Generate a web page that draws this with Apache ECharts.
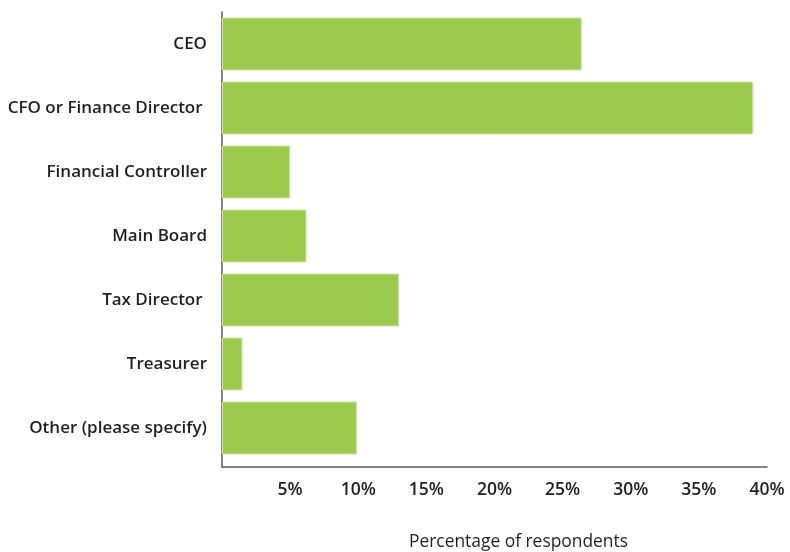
<!DOCTYPE html>
<html>
<head>
<meta charset="utf-8">
<script src="https://cdn.jsdelivr.net/npm/echarts@6/dist/echarts.min.js"></script>
<style>
  html, body { margin: 0; padding: 0; background: #ffffff; }
  #chart { width: 790px; height: 552px; }
</style>
</head>
<body>
<div id="chart"></div>
<script>
// Who within the organisation is responsible (share of respondents, %)
const roles = [
  'CEO',
  'CFO or Finance Director ',
  'Financial Controller',
  'Main Board',
  'Tax Director ',
  'Treasurer',
  'Other (please specify)'
];
const shares = [26.4, 39.0, 5.0, 6.2, 13.0, 1.5, 9.9];
const axisMin = 0;
const axisMax = 40;
const axisStep = 5;
const axisTitle = 'Percentage of respondents';

const FONT = '"Open Sans", "Noto Sans", sans-serif';
const TEXT = '#231f20';
const BAR = '#9bca4c';
const AXIS = '#5a5a5a';

const chart = echarts.init(document.getElementById('chart'), null, { renderer: 'canvas' });

chart.setOption({
  backgroundColor: '#ffffff',
  animation: false,
  textStyle: { fontFamily: FONT },
  title: {
    text: axisTitle,
    left: 409,
    top: 534,
    padding: 0,
    textStyle: { fontFamily: FONT, fontSize: 17.4, fontWeight: 'normal', color: TEXT }
  },
  grid: [
    // frame grid: carries the two axis lines and the percentage scale
    { left: 222, right: 23, top: 12, bottom: 85, containLabel: false },
    // bar grid: category bands end a little above the horizontal axis
    { left: 222, right: 23, top: 12, bottom: 92, containLabel: false }
  ],
  xAxis: [
    {
      gridIndex: 0,
      type: 'value',
      min: axisMin,
      max: axisMax,
      interval: axisStep,
      axisLine: { show: true, lineStyle: { color: AXIS, width: 1.5 } },
      axisTick: { show: false },
      splitLine: { show: false },
      axisLabel: {
        margin: 14,
        fontFamily: FONT,
        fontSize: 17.5,
        fontWeight: 600,
        color: TEXT,
        formatter: v => (v === 0 ? '' : v + '%')
      }
    },
    {
      gridIndex: 1,
      type: 'value',
      min: axisMin,
      max: axisMax,
      show: false
    }
  ],
  yAxis: [
    {
      gridIndex: 0,
      type: 'category',
      inverse: true,
      data: roles,
      axisLine: { show: true, lineStyle: { color: AXIS, width: 1.5 } },
      axisTick: { show: false },
      axisLabel: { show: false },
      splitLine: { show: false }
    },
    {
      gridIndex: 1,
      type: 'category',
      inverse: true,
      data: roles,
      axisLine: { show: false },
      axisTick: { show: false },
      splitLine: { show: false },
      axisLabel: {
        margin: 15,
        fontFamily: FONT,
        fontSize: 17,
        fontWeight: 600,
        color: TEXT
      }
    }
  ],
  series: [
    {
      type: 'bar',
      xAxisIndex: 1,
      yAxisIndex: 1,
      data: shares,
      barWidth: 53,
      itemStyle: { color: BAR, borderColor: '#cde5a4', borderWidth: 1 },
      silent: true
    }
  ]
});
</script>
</body>
</html>
